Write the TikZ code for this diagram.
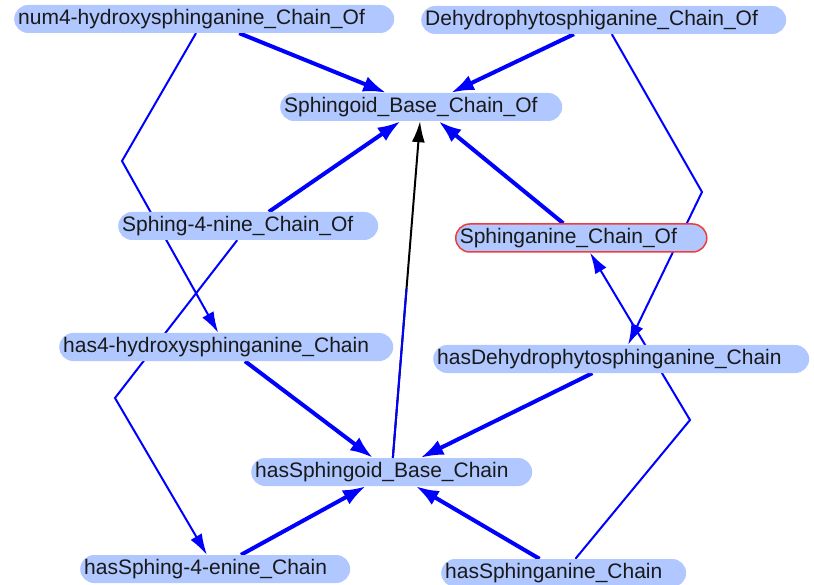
\documentclass[tikz,border=0pt]{standalone}
\usepackage{fontspec}
\setmainfont{Liberation Sans}
\usetikzlibrary{arrows.meta}
\definecolor{Pill}{HTML}{B0C8FF}
\definecolor{Edge}{HTML}{0000FF}
\definecolor{Mark}{HTML}{F03C3C}
\pgfdeclarelayer{back}
\pgfsetlayers{back,main}
\tikzset{
  chain/.style={rectangle, rounded corners=14pt, fill=Pill, minimum height=28pt,
    inner xsep=4pt, inner ysep=0pt, text height=15pt, text depth=4.5pt,
    align=left, anchor=west, text=black!90, font=\fontsize{21}{24}\selectfont},
  strong/.style={draw=Edge, line width=4pt, -{Latex[length=23pt,width=16pt]}},
  weak/.style={draw=Edge, line width=2pt, -{Latex[length=21pt,width=13pt]}},
}

\begin{document}
\begin{tikzpicture}[x=1pt, y=-1pt]%
\useasboundingbox (0,0) rectangle (814,585);%
% chains of
\node[chain, text width=372pt] (num4) at (14,19) {num4-hydroxysphinganine\_Chain\_Of};%
\node[chain, text width=357pt] (dehydroOf) at (421,20) {Dehydrophytosphiganine\_Chain\_Of};%
\node[chain, text width=274pt] (baseOf) at (280,107) {Sphingoid\_Base\_Chain\_Of};%
\node[chain, text width=252pt] (nineOf) at (118,226) {Sphing-4-nine\_Chain\_Of};%
\node[chain, text width=243pt, draw=Mark, line width=1.5pt] (sphinOf) at (455,238) {Sphinganine\_Chain\_Of};%
% has chains
\node[chain, text width=326pt] (hasHydroxy) at (59,347) {has4-hydroxysphinganine\_Chain};%
\node[chain, text width=368pt] (hasDehydro) at (433,359) {hasDehydrophytosphinganine\_Chain};%
\node[chain, text width=273pt] (hasBase) at (251,472) {hasSphingoid\_Base\_Chain};%
\node[chain, text width=262pt] (hasEnine) at (80,569) {hasSphing-4-enine\_Chain};%
\node[chain, text width=237pt] (hasSphin) at (441,573) {hasSphinganine\_Chain};%
\coordinate (bendA) at (122,161);%
\coordinate (bendB) at (115,398);%
\coordinate (bendC) at (702,192);%
\coordinate (bendD) at (690,420);%
\begin{pgfonlayer}{back}%
\draw[strong] (num4) -- (baseOf);%
\draw[strong] (dehydroOf) -- (baseOf);%
\draw[strong] (nineOf) -- (baseOf);%
\draw[strong] (sphinOf) -- (baseOf);%
\draw[strong] (hasHydroxy) -- (hasBase);%
\draw[strong] (hasEnine) -- (hasBase);%
\draw[strong] (hasDehydro) -- (hasBase);%
\draw[strong] (hasSphin) -- (hasBase);%
\draw[weak, draw=black] (hasBase) -- (baseOf);%
\draw[Edge, line width=2pt, shorten >=168pt] (hasBase) -- (baseOf);%
\draw[weak] (num4) -- (bendA) -- (hasHydroxy);%
\draw[weak] (nineOf) -- (bendB) -- (hasEnine);%
\draw[weak] (dehydroOf) -- (bendC) -- (hasDehydro);%
\draw[weak] (hasSphin) -- (bendD) -- (sphinOf);%
\end{pgfonlayer}%
\end{tikzpicture}
\end{document}
